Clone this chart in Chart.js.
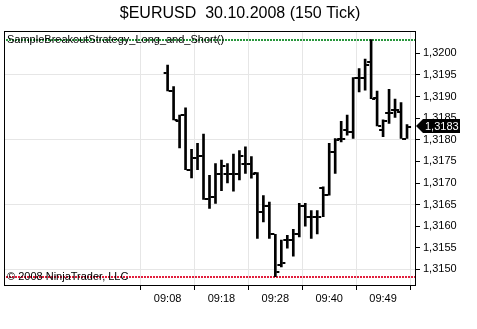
<!DOCTYPE html>
<html>
<head>
<meta charset="utf-8">
<script src="https://cdn.jsdelivr.net/npm/chart.js@4/dist/chart.umd.min.js"></script>
<style>
  html, body { margin: 0; padding: 0; background: #fff; }
</style>
</head>
<body>
<canvas id="grafico" width="477" height="329"></canvas>
<script>
// dados (barras de 150 ticks)
const aberturas = [1.31954, 1.31913, 1.31843, 1.31857, 1.31731, 1.31757, 1.31763, 1.31662, 1.31667, 1.31722,
    1.31722, 1.31722, 1.31722, 1.31745, 1.31745, 1.31724, 1.31633, 1.31647, 1.31581, 1.31510,
    1.31568, 1.31568, 1.31582, 1.31647, 1.31622, 1.31622, 1.31688, 1.31672, 1.31772, 1.31803,
    1.31822, 1.31819, 1.31942, 1.31944, 1.31980, 1.31896, 1.31822, 1.31863, 1.31869, 1.31865, 1.31803];
const maximas = [1.31973, 1.31923, 1.31857, 1.31874, 1.31778, 1.31792, 1.31813, 1.31718, 1.31745, 1.31753,
    1.31745, 1.31767, 1.31775, 1.31784, 1.31761, 1.31724, 1.31671, 1.31656, 1.31581, 1.31568,
    1.31579, 1.31593, 1.31653, 1.31653, 1.31636, 1.31636, 1.31691, 1.31792, 1.31803, 1.31843,
    1.31857, 1.31944, 1.31965, 1.31987, 1.32032, 1.31913, 1.31846, 1.31917, 1.31894, 1.31886, 1.31835];
const minimas = [1.31913, 1.31846, 1.31781, 1.31731, 1.31712, 1.31731, 1.31662, 1.31641, 1.31653, 1.31682,
    1.31700, 1.31681, 1.31707, 1.31722, 1.31711, 1.31572, 1.31610, 1.31572, 1.31483, 1.31506,
    1.31549, 1.31531, 1.31575, 1.31600, 1.31572, 1.31582, 1.31622, 1.31672, 1.31722, 1.31795,
    1.31811, 1.31803, 1.31911, 1.31915, 1.31895, 1.31832, 1.31807, 1.31838, 1.31852, 1.31803, 1.31803];
const fechamentos = [1.31913, 1.31846, 1.31857, 1.31731, 1.31757, 1.31763, 1.31662, 1.31667, 1.31722, 1.31739,
    1.31722, 1.31722, 1.31762, 1.31745, 1.31722, 1.31633, 1.31647, 1.31581, 1.31494, 1.31515,
    1.31568, 1.31582, 1.31647, 1.31622, 1.31622, 1.31622, 1.31672, 1.31772, 1.31799, 1.31803,
    1.31819, 1.31944, 1.31942, 1.31973, 1.31895, 1.31832, 1.31844, 1.31863, 1.31869, 1.31803, 1.31830];

const horarios = ['09:08', '09:18', '09:28', '09:40', '09:49'];
const indicesHorarios = [0, 9, 18, 27, 36];
const precosEixo = [1.3150, 1.3155, 1.3160, 1.3165, 1.3170, 1.3175, 1.3180, 1.3185, 1.3190, 1.3195, 1.3200];

const nivelSuperior = 1.32032;
const nivelInferior = 1.31483;
const textoEstrategia = 'SampleBreakoutStrategy_Long_and_Short()';
const textoCopyright = '\u00a9 2008 NinjaTrader, LLC';

function formatarPreco(v) {
    return v.toFixed(4).replace('.', ',');
}

function tracinho(lado) {
    let c = document.createElement('canvas');
    c.width = 10;
    c.height = 2;
    let g = c.getContext('2d');
    g.fillStyle = '#000';
    if (lado === 'esq')
        g.fillRect(1, 0, 3, 2);
    else
        g.fillRect(6, 0, 3, 2);
    return c;
}

const sombras = maximas.map((h, i) => ({ x: i, y: [minimas[i], h] }));
const pontosAbertura = aberturas.map((v, i) => ({ x: i, y: v }));
const pontosFechamento = fechamentos.map((v, i) => ({ x: i, y: v }));

const desenhos = {
    id: 'desenhos',
    beforeDatasetsDraw(chart) {
        const { ctx, chartArea: a, scales: { y } } = chart;
        ctx.save();
        ctx.lineWidth = 2;
        ctx.setLineDash([2, 1]);
        let ys = Math.round(y.getPixelForValue(nivelSuperior));
        ctx.strokeStyle = 'rgb(40,150,60)';
        ctx.beginPath();
        ctx.moveTo(a.left + 1, ys);
        ctx.lineTo(a.right, ys);
        ctx.stroke();
        let yi = Math.round(y.getPixelForValue(nivelInferior));
        ctx.strokeStyle = 'rgb(225,30,60)';
        ctx.beginPath();
        ctx.moveTo(a.left + 1, yi);
        ctx.lineTo(a.right, yi);
        ctx.stroke();
        ctx.restore();
    },
    afterDatasetsDraw(chart) {
        const { ctx, chartArea: a, scales: { y } } = chart;
        ctx.save();
        ctx.font = '11px "Liberation Sans", Arial, sans-serif';
        ctx.fillStyle = '#000';
        ctx.textBaseline = 'middle';
        ctx.fillText(textoEstrategia, a.left + 2, y.getPixelForValue(nivelSuperior) + 0.5);
        ctx.fillText(textoCopyright, a.left + 2, y.getPixelForValue(nivelInferior) + 0.5);

        ctx.strokeStyle = '#000';
        ctx.lineWidth = 1;
        ctx.strokeRect(Math.round(a.left) - 0.5, Math.round(a.top) - 0.5, Math.round(a.right - a.left) + 1, Math.round(a.bottom - a.top) + 1);

        let ultimo = fechamentos[fechamentos.length - 1];
        let yy = Math.round(y.getPixelForValue(ultimo)) - 1;
        let x0 = Math.round(a.right) + 1;
        ctx.fillStyle = '#000';
        ctx.beginPath();
        ctx.moveTo(x0, yy);
        ctx.lineTo(x0 + 7, yy - 7);
        ctx.lineTo(x0 + 44, yy - 7);
        ctx.lineTo(x0 + 44, yy + 7);
        ctx.lineTo(x0 + 7, yy + 7);
        ctx.closePath();
        ctx.fill();
        ctx.fillStyle = '#fff';
        ctx.fillText(formatarPreco(ultimo), x0 + 9, yy + 0.5);
        ctx.restore();
    }
};

new Chart('grafico', {
    type: 'bar',
    data: {
        datasets: [{
            type: 'bar',
            data: sombras,
            backgroundColor: '#000',
            borderWidth: 0,
            barThickness: 2,
            order: 2
        }, {
            type: 'line',
            data: pontosAbertura,
            showLine: false,
            pointStyle: tracinho('esq'),
            pointRadius: 3,
            order: 1
        }, {
            type: 'line',
            data: pontosFechamento,
            showLine: false,
            pointStyle: tracinho('dir'),
            pointRadius: 3,
            order: 1
        }]
    },
    options: {
        responsive: false,
        animation: false,
        events: [],
        layout: { padding: { left: 3, right: 0, top: 0, bottom: 0 } },
        plugins: {
            legend: { display: false },
            tooltip: { enabled: false },
            title: {
                display: true,
                text: '$EURUSD  30.10.2008 (150 Tick)',
                color: '#000',
                font: { family: '"Liberation Sans", Arial, sans-serif', size: 16, weight: 'normal' },
                padding: { top: 4, bottom: 9 }
            }
        },
        scales: {
            x: {
                type: 'linear',
                offset: false,
                min: -27.1667,
                max: 41.3333,
                afterBuildTicks: axis => {
                    axis.ticks = indicesHorarios.map(v => ({ value: v }));
                },
                afterFit: axis => {
                    axis.height = 44;
                },
                ticks: {
                    color: '#000',
                    font: { family: '"Liberation Sans", Arial, sans-serif', size: 11 },
                    padding: 2,
                    maxRotation: 0,
                    autoSkip: false,
                    callback: value => horarios[indicesHorarios.indexOf(value)]
                },
                grid: {
                    color: '#e6e6e6',
                    tickColor: '#000',
                    tickLength: 5
                },
                border: { display: false }
            },
            y: {
                position: 'right',
                min: 1.31464,
                max: 1.32049,
                afterBuildTicks: axis => {
                    axis.ticks = precosEixo.map(v => ({ value: v }));
                },
                afterFit: axis => {
                    axis.width = 62;
                },
                ticks: {
                    color: '#000',
                    font: { family: '"Liberation Sans", Arial, sans-serif', size: 11 },
                    padding: 3,
                    callback: value => formatarPreco(value)
                },
                grid: {
                    color: ctx => {
                        let passo = Math.round((ctx.tick.value - 1.3150) / 0.0005);
                        return passo % 3 === 0 ? '#e6e6e6' : 'rgba(0,0,0,0)';
                    },
                    tickColor: '#000',
                    tickLength: 5
                },
                border: { display: false }
            }
        }
    },
    plugins: [desenhos]
});
</script>
</body>
</html>
